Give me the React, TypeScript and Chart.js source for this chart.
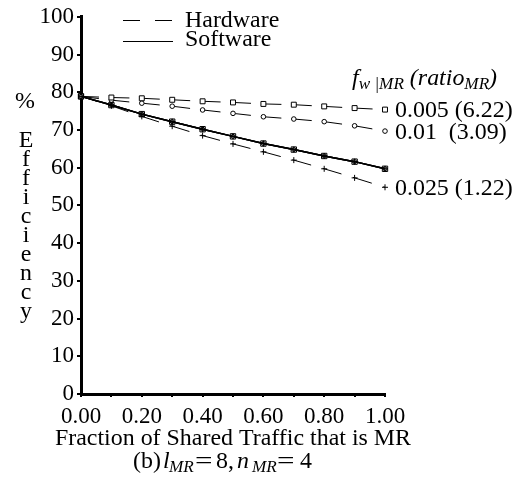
import React, { useEffect, useRef } from "react";
import { Chart, registerables } from "chart.js";

Chart.register(...registerables);

const xValues = [0, 0.1, 0.2, 0.3, 0.4, 0.5, 0.6, 0.7, 0.8, 0.9, 1.0];
const hardware005 = [78.9, 78.6, 78.4, 78.0, 77.6, 77.3, 76.9, 76.7, 76.25, 75.8, 75.4];
const hardware01 = [78.9, 77.9, 77.1, 76.3, 75.3, 74.4, 73.5, 72.9, 72.2, 71.1, 69.7];
const hardware025 = [78.9, 76.4, 73.6, 71.0, 68.5, 66.3, 64.2, 62.0, 59.7, 57.3, 54.8];
const software005 = [78.9, 76.6, 74.2, 72.2, 70.2, 68.3, 66.4, 64.8, 63.1, 61.6, 59.7];
const software01 = [78.9, 76.6, 74.2, 72.2, 70.2, 68.3, 66.4, 64.8, 63.1, 61.6, 59.7];
const software025 = [78.9, 76.6, 74.2, 72.2, 70.2, 68.3, 66.4, 64.8, 63.1, 61.6, 59.7];
const seriesLabels = ["0.005 (6.22)", "0.01  (3.09)", "0.025 (1.22)"];
const legendLabels = ["Hardware", "Software"];
const xTitle = "Fraction of Shared Traffic that is MR";
const yTitleLetters = ["E", "f", "f", "i", "c", "i", "e", "n", "c", "y"];

const FONT = "'Liberation Serif', 'Times New Roman', serif";
const SIZE = 23;
const SUB = 16.5;
const STRETCH = 1.04;

type Part = { t: string; italic?: boolean; sub?: boolean; x?: number; sx?: number };

function text(ctx: CanvasRenderingContext2D, s: string, x: number, y: number, sx = STRETCH) {
  ctx.save();
  ctx.translate(x, y);
  ctx.scale(sx, 1);
  ctx.fillText(s, 0, 0);
  ctx.restore();
}

function drawRich(ctx: CanvasRenderingContext2D, x: number, y: number, parts: Part[]) {
  let cx = x;
  ctx.textAlign = "left";
  for (const p of parts) {
    const s = p.sub ? SUB : SIZE;
    const sx = p.sx ?? STRETCH;
    ctx.font = `${p.italic ? "italic " : ""}${s}px ${FONT}`;
    if (p.x !== undefined) cx = p.x;
    text(ctx, p.t, cx, p.sub ? y + 4 : y, sx);
    cx += ctx.measureText(p.t).width * sx;
  }
}

const pts = (arr: number[]) => arr.map((v, i) => ({ x: xValues[i], y: v }));

const textPlugin = {
  id: "texts",
  afterDraw(chart: any) {
    const ctx: CanvasRenderingContext2D = chart.ctx;
    const xs = chart.scales.x;
    const ys = chart.scales.y;
    ctx.save();
    ctx.fillStyle = "#000";
    ctx.strokeStyle = "#000";
    ctx.textBaseline = "alphabetic";

    // legend
    ctx.lineWidth = 1;
    ctx.setLineDash([17, 15]);
    ctx.beginPath();
    ctx.moveTo(123, 20.5);
    ctx.lineTo(173, 20.5);
    ctx.stroke();
    ctx.setLineDash([]);
    ctx.beginPath();
    ctx.moveTo(123, 41.5);
    ctx.lineTo(173, 41.5);
    ctx.stroke();
    ctx.font = `${SIZE}px ${FONT}`;
    ctx.textAlign = "left";
    text(ctx, legendLabels[0], 185, 27);
    text(ctx, legendLabels[1], 185, 46);

    // header
    drawRich(ctx, 352, 85, [
      { t: "f", italic: true },
      { t: "w |MR", italic: true, sub: true },
      { t: " (ratio", italic: true },
      { t: "MR", italic: true, sub: true },
      { t: ")", italic: true },
    ]);

    // series end labels
    const lasts = [hardware005, hardware01, hardware025];
    ctx.font = `${SIZE}px ${FONT}`;
    ctx.textAlign = "left";
    lasts.forEach((arr, i) => {
      const px = xs.getPixelForValue(xValues[xValues.length - 1]);
      const py = ys.getPixelForValue(arr[arr.length - 1]);
      text(ctx, seriesLabels[i], px + 10, py + 7.5);
    });

    // y title
    ctx.textAlign = "center";
    text(ctx, "%", 25, 108);
    yTitleLetters.forEach((l, i) => {
      text(ctx, l, 26, 147 + i * 19);
    });

    // x title
    text(ctx, xTitle, 233, 445);

    // subtitle
    drawRich(ctx, 133, 468, [
      { t: "(b)" },
      { t: "l", italic: true, x: 163 },
      { t: "MR", italic: true, sub: true, x: 169 },
      { t: "=", x: 195, sx: 1.35 },
      { t: "8,", x: 216 },
      { t: "n", italic: true, x: 237 },
      { t: "MR", italic: true, sub: true, x: 252 },
      { t: "=", x: 277, sx: 1.35 },
      { t: "4", x: 300 },
    ]);
    ctx.restore();
  },
};

export default function App() {
  const ref = useRef<HTMLCanvasElement | null>(null);
  useEffect(() => {
    if (!ref.current) return;
    const hw = (data: number[], style: string, radius: number) => ({
      data: pts(data),
      borderColor: "#000",
      borderWidth: 1,
      borderDash: [18, 12],
      segment: { borderDashOffset: (c: any) => c.p0DataIndex * 30 },
      pointStyle: style,
      pointRadius: radius,
      pointBorderWidth: 1,
      pointBorderColor: "#000",
      pointBackgroundColor: "#fff",
      clip: false as any,
    });
    const sw = (data: number[], style: string, radius: number) => ({
      data: pts(data),
      borderColor: "#000",
      borderWidth: 1.5,
      pointStyle: style,
      pointRadius: radius,
      pointBorderWidth: 1,
      pointBorderColor: "#000",
      pointBackgroundColor: "rgba(255,255,255,0)",
      clip: false as any,
    });
    const chart = new Chart(ref.current, {
      type: "line",
      data: {
        datasets: [
          sw(software005, "rect", 3.8),
          sw(software01, "circle", 2),
          sw(software025, "cross", 3),
          hw(hardware005, "rect", 3.5),
          hw(hardware01, "circle", 2.3),
          hw(hardware025, "cross", 3),
        ] as any,
      },
      options: {
        animation: false,
        responsive: false,
        layout: { padding: { top: 15, right: 142, left: 0, bottom: 0 } },
        plugins: { legend: { display: false }, tooltip: { enabled: false } },
        scales: {
          x: {
            type: "linear",
            min: 0,
            max: 1,
            afterFit: (s: any) => {
              s.height = 88;
            },
            border: { color: "#000", width: 3 },
            grid: { drawOnChartArea: false, color: "#000", tickLength: 3, lineWidth: 2 },
            ticks: {
              stepSize: 0.1,
              autoSkip: false,
              maxRotation: 0,
              padding: 6,
              color: "#000",
              font: { family: FONT, size: SIZE },
              callback: (v: any) => (Math.round(Number(v) * 10) % 2 === 0 ? Number(v).toFixed(2) : ""),
            },
          },
          y: {
            min: 0,
            max: 100,
            afterFit: (s: any) => {
              s.width = 81;
            },
            border: { color: "#000", width: 3 },
            grid: { drawOnChartArea: false, color: "#000", tickLength: 4, lineWidth: 2 },
            ticks: {
              stepSize: 10,
              padding: 3,
              color: "#000",
              font: { family: FONT, size: SIZE },
            },
          },
        },
      },
      plugins: [textPlugin],
    });
    return () => chart.destroy();
  }, []);
  return (
    <div style={{ position: "absolute", left: 0, top: 0, width: 527, height: 482, background: "#fff" }}>
      <canvas ref={ref} width={527} height={482} style={{ display: "block", width: 527, height: 482 }} />
    </div>
  );
}
